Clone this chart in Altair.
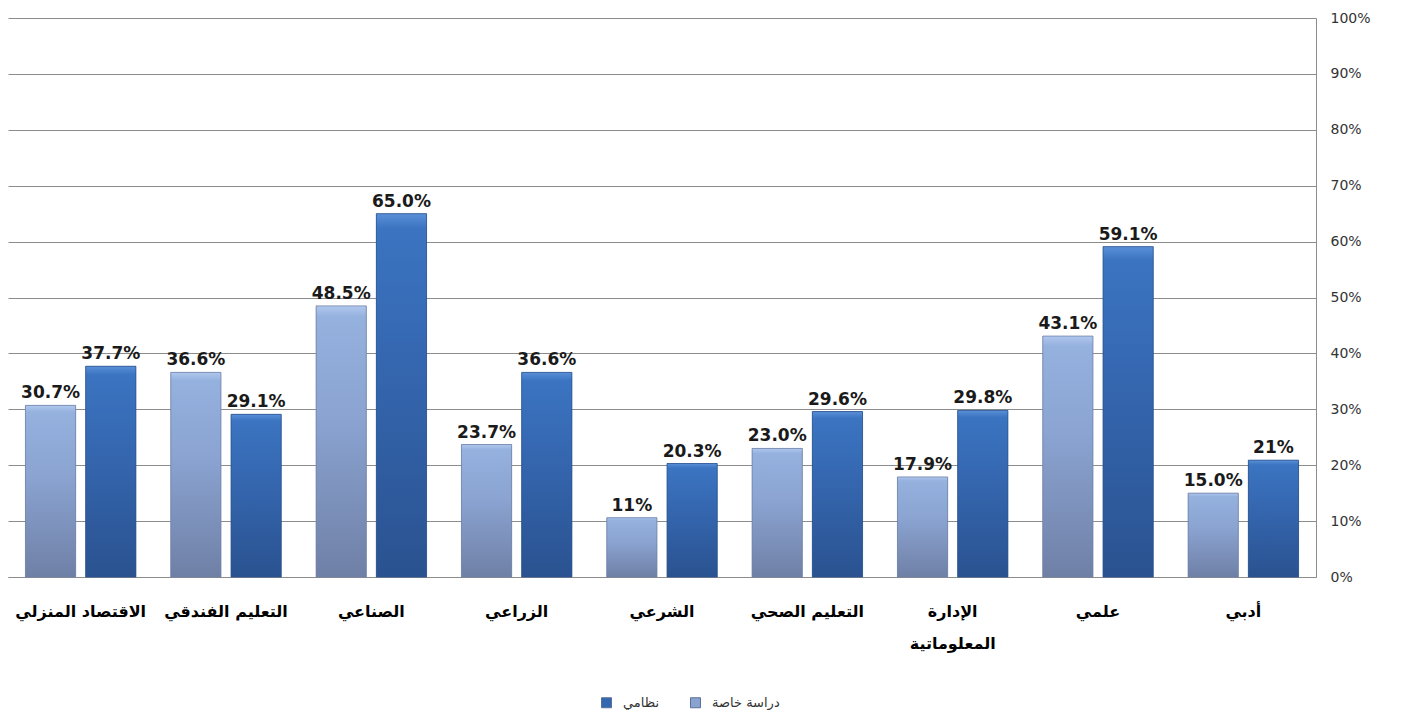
import altair as alt
import pandas as pd

categories = ["الاقتصاد المنزلي", "التعليم الفندقي", "الصناعي", "الزراعي", "الشرعي",
              "التعليم الصحي", "الإدارة المعلوماتية", "علمي", "أدبي"]
series = ["دراسة خاصة", "نظامي"]
legend_order = ["نظامي", "دراسة خاصة"]
private_vals = [30.7, 36.6, 48.5, 23.7, 10.6, 23.0, 17.9, 43.1, 15.0]
private_labels = ["30.7%", "36.6%", "48.5%", "23.7%", "11%", "23.0%", "17.9%", "43.1%", "15.0%"]
regular_vals = [37.7, 29.1, 65.0, 36.6, 20.3, 29.6, 29.8, 59.1, 20.9]
regular_labels = ["37.7%", "29.1%", "65.0%", "36.6%", "20.3%", "29.6%", "29.8%", "59.1%", "21%"]
y_ticks = [0, 10, 20, 30, 40, 50, 60, 70, 80, 90, 100]
split_label = "الإدارة المعلوماتية"

rows = []
for c, v, l in zip(categories, private_vals, private_labels):
    rows.append({"category": c, "series": series[0], "value": v, "label": l})
for c, v, l in zip(categories, regular_vals, regular_labels):
    rows.append({"category": c, "series": series[1], "value": v, "label": l})
df = pd.DataFrame(rows)

light_grad = alt.Gradient(
    gradient="linear", x1=0, x2=0, y1=0, y2=1,
    stops=[alt.GradientStop(color="#b0c8ee", offset=0),
           alt.GradientStop(color="#95b1de", offset=0.04),
           alt.GradientStop(color="#8ba4d2", offset=0.4),
           alt.GradientStop(color="#6f80a6", offset=1)])
dark_grad = alt.Gradient(
    gradient="linear", x1=0, x2=0, y1=0, y2=1,
    stops=[alt.GradientStop(color="#5b90d8", offset=0),
           alt.GradientStop(color="#3b74c1", offset=0.04),
           alt.GradientStop(color="#3567b0", offset=0.4),
           alt.GradientStop(color="#2a5290", offset=1)])

label_expr = f"datum.label == '{split_label}' ? split(datum.label, ' ') : datum.label"

base = alt.Chart(df).encode(
    x=alt.X("category:N", sort=categories, title=None,
            scale=alt.Scale(paddingInner=0.24, paddingOuter=0.12),
            axis=alt.Axis(labelAngle=0, labelFont="DejaVu Sans", labelFontSize=16,
                          labelFontWeight="bold", labelColor="#000000", labelPadding=26,
                          labelLineHeight=32, ticks=False, domain=True,
                          domainColor="#8c8c8c", labelExpr=label_expr)),
    xOffset=alt.XOffset("series:N", sort=series,
                        scale=alt.Scale(domain=series, paddingInner=1 / 6)),
    y=alt.Y("value:Q", title=None,
            scale=alt.Scale(domain=[0, 100], nice=False),
            axis=alt.Axis(orient="right", values=y_ticks, labelExpr="datum.value + '%'",
                          labelFont="DejaVu Sans", labelFontSize=14, labelColor="#333333",
                          labelPadding=14, ticks=False, domain=True, domainColor="#8c8c8c",
                          grid=True, gridColor="#8c8c8c", gridWidth=1)),
)

legend_bars = base.mark_bar().encode(
    color=alt.Color("series:N",
                    scale=alt.Scale(domain=legend_order, range=["#3567b0", "#8aa2cf"]),
                    legend=alt.Legend(title=None, orient="none", direction="horizontal",
                                      legendX=592, legendY=678, symbolType="square",
                                      symbolSize=100, symbolStrokeWidth=1,
                                      symbolStrokeColor="#5a6f99",
                                      labelFont="DejaVu Sans", labelFontSize=13,
                                      labelColor="#333333", labelOffset=10,
                                      columnPadding=28))
)

light_bars = base.transform_filter(alt.datum.series == series[0]).mark_bar(
    color=light_grad, stroke="#6f80a6", strokeWidth=0.8)
dark_bars = base.transform_filter(alt.datum.series == series[1]).mark_bar(
    color=dark_grad, stroke="#2b548f", strokeWidth=0.8)

labels = base.mark_text(baseline="bottom", dy=-3, font="DejaVu Sans", fontSize=17,
                        fontWeight="bold", color="#1a1a1a").encode(text="label:N")

chart = alt.layer(legend_bars, light_bars, dark_bars, labels).properties(
    width=1308, height=559,
    padding={"left": 0, "top": 3, "right": 5, "bottom": 0},
).configure_view(stroke=None)

chart.save("out.html", embed_options={"renderer": "svg", "actions": False})
